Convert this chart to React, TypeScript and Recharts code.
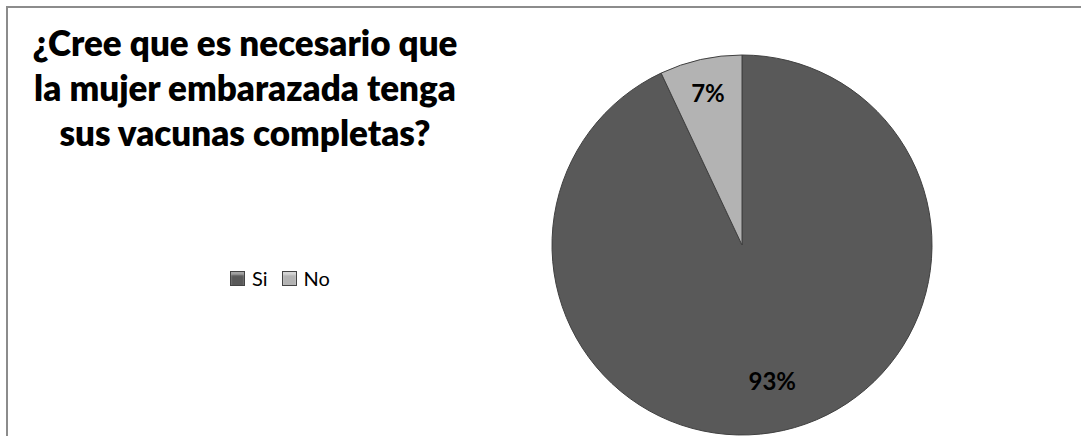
import React from "react";
import { PieChart, Pie, Cell, Legend } from "recharts";

const categories = ["Si", "No"];
const values = [93, 7];
const labels = ["93%", "7%"];
const colors = ["#595959", "#b3b3b3"];
const titleLines = [
  "¿Cree que es necesario que",
  "la mujer embarazada tenga",
  "sus vacunas completas?",
];

const data = categories.map((name, i) => ({ name, value: values[i], label: labels[i] }));

const RAD = Math.PI / 180;
const labelRadiusFactor = [0.73, 0.82];

const renderLabel = (props: any) => {
  const { cx, cy, midAngle, outerRadius, index } = props;
  const r = outerRadius * labelRadiusFactor[index];
  const x = cx + r * Math.cos(-midAngle * RAD);
  const y = cy + r * Math.sin(-midAngle * RAD);
  return (
    <text
      x={x}
      y={y}
      textAnchor="middle"
      dominantBaseline="central"
      fontFamily="Lato, sans-serif"
      fontWeight="bold"
      fontSize={24}
      fill="#000"
    >
      {data[index].label}
    </text>
  );
};

const renderLegend = (props: any) => {
  const payload = [...(props.payload || [])].sort(
    (a: any, b: any) => categories.indexOf(a.value) - categories.indexOf(b.value)
  );
  return (
    <div style={{ display: "flex", alignItems: "center", fontFamily: "Lato, sans-serif", fontSize: 20, color: "#000" }}>
      {payload.map((p: any, i: number) => (
        <div key={i} style={{ display: "flex", alignItems: "center", marginRight: 14 }}>
          <span
            style={{
              display: "inline-block",
              width: 13,
              height: 13,
              background: p.color,
              border: "1px solid #444",
              boxShadow: "inset 0 3px 2px rgba(255,255,255,0.45)",
              marginRight: 7,
            }}
          />
          <span>{p.value}</span>
        </div>
      ))}
    </div>
  );
};

export default function App() {
  return (
    <div style={{ position: "fixed", left: 0, top: 0, width: 1081, height: 436, background: "#fff", overflow: "hidden" }}>
      <div
        style={{
          position: "absolute",
          left: 6,
          top: 6,
          width: 1100,
          height: 460,
          borderTop: "2px solid #8c8c8c",
          borderLeft: "2px solid #8c8c8c",
        }}
      />
      <div
        style={{
          position: "absolute",
          left: 10,
          top: 20,
          width: 470,
          textAlign: "center",
          fontFamily: "Lato, sans-serif",
          fontWeight: 800,
          fontSize: 35,
          lineHeight: "45px",
          color: "#000",
          whiteSpace: "nowrap",
        }}
      >
        {titleLines.map((t, i) => (
          <div key={i}>{t}</div>
        ))}
      </div>
      <div style={{ position: "absolute", left: 0, top: 0 }}>
        <PieChart width={1081} height={436} margin={{ top: 0, right: 0, bottom: 0, left: 0 }}>
          <Pie
            data={data}
            dataKey="value"
            nameKey="name"
            cx={742}
            cy={245}
            outerRadius={190}
            startAngle={90}
            endAngle={-270}
            stroke="#404040"
            strokeWidth={1}
            label={renderLabel}
            labelLine={false}
            isAnimationActive={false}
          >
            {data.map((d, i) => (
              <Cell key={d.name} fill={colors[i]} />
            ))}
          </Pie>
          <Legend
            content={renderLegend}
            wrapperStyle={{ position: "absolute", left: 230, top: 266, width: "auto" }}
          />
        </PieChart>
      </div>
    </div>
  );
}
